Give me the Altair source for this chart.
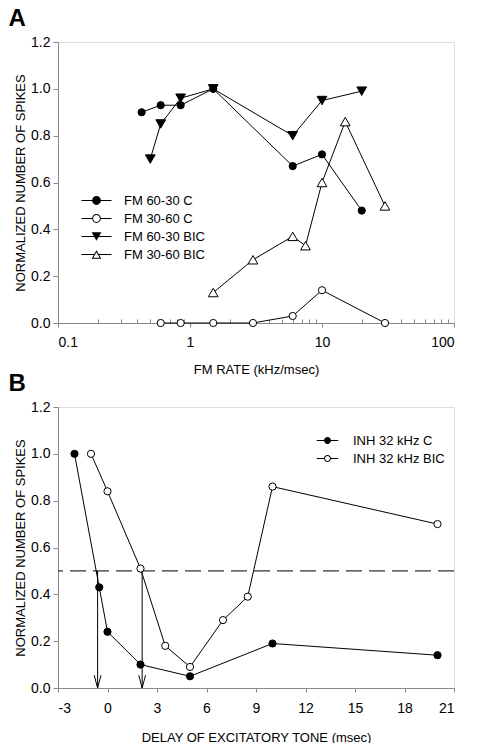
import altair as alt
import pandas as pd

FONT = "Liberation Sans"

# ---------------- Panel A data ----------------
a_series = ["FM 60-30 C", "FM 30-60 C", "FM 60-30 BIC", "FM 30-60 BIC"]
a_rate_c6030 = [0.43, 0.6, 0.85, 1.5, 6, 10, 20]
a_spk_c6030 = [0.90, 0.93, 0.93, 1.00, 0.67, 0.72, 0.48]
a_rate_c3060 = [0.6, 0.85, 1.5, 3, 6, 10, 30]
a_spk_c3060 = [0.00, 0.00, 0.00, 0.00, 0.03, 0.14, 0.00]
a_rate_b6030 = [0.5, 0.6, 0.85, 1.5, 6, 10, 20]
a_spk_b6030 = [0.70, 0.85, 0.96, 1.00, 0.80, 0.95, 0.99]
a_rate_b3060 = [1.5, 3, 6, 7.5, 10, 15, 30]
a_spk_b3060 = [0.13, 0.27, 0.37, 0.33, 0.60, 0.86, 0.50]
a_major_ticks = [0.1, 1, 10, 100]
a_minor_ticks = [0.2, 0.3, 0.4, 0.5, 0.6, 0.7, 0.8, 0.9,
                 2, 3, 4, 5, 6, 7, 8, 9,
                 20, 30, 40, 50, 60, 70, 80, 90]

# ---------------- Panel B data ----------------
b_series = ["INH 32 kHz C", "INH 32 kHz BIC"]
b_delay_c = [-2, -0.5, 0, 2, 5, 10, 20]
b_spk_c = [1.00, 0.43, 0.24, 0.10, 0.05, 0.19, 0.14]
b_delay_bic = [-1, 0, 2, 3.5, 5, 7, 8.5, 10, 20]
b_spk_bic = [1.00, 0.84, 0.51, 0.18, 0.09, 0.29, 0.39, 0.86, 0.70]
b_threshold = [0.5]
b_arrow_x = [-0.6, 2.1]
b_ticks = [-3, 0, 3, 6, 9, 12, 15, 18, 21]

y_ticks = [0, 0.2, 0.4, 0.6, 0.8, 1.0, 1.2]


def long(series_names, xs, ys, xname, yname):
    rows = []
    for name, xv, yv in zip(series_names, xs, ys):
        for a, b in zip(xv, yv):
            rows.append({xname: a, yname: b, "series": name})
    return pd.DataFrame(rows)


df_a = long(a_series,
            [a_rate_c6030, a_rate_c3060, a_rate_b6030, a_rate_b3060],
            [a_spk_c6030, a_spk_c3060, a_spk_b6030, a_spk_b3060],
            "rate", "spikes")
df_b = long(b_series, [b_delay_c, b_delay_bic], [b_spk_c, b_spk_bic],
            "delay", "spikes")
df_arrows = pd.DataFrame({"delay": b_arrow_x,
                          "top": b_threshold * len(b_arrow_x),
                          "bot": [0] * len(b_arrow_x)})
df_thr = pd.DataFrame({"spikes": b_threshold})

W, H = 396, 281


def y_axis():
    return alt.Axis(values=y_ticks, format=".1f", tickSize=5, labelFontSize=14,
                    labelPadding=3, title="NORMALIZED NUMBER OF SPIKES",
                    titleFontSize=13, titlePadding=3, titleFontWeight="normal",
                    grid=False)


y_scale = alt.Scale(domain=[0, 1.2], nice=False, zero=False)

# legend symbol paths (line stub + marker), all drawn as filled geometry
STUB_A = ("M-3.75,-0.125L-{g},-0.125L-{g},0.125L-3.75,0.125Z"
          "M{g},-0.125L3.75,-0.125L3.75,0.125L{g},0.125Z")
P_CIRC_F = STUB_A.format(g=1.05) + "M1.1,0A1.1,1.1,0,1,1,-1.1,0A1.1,1.1,0,1,1,1.1,0Z"
P_CIRC_O = P_CIRC_F + "M0.85,0A0.85,0.85,0,1,0,-0.85,0A0.85,0.85,0,1,0,0.85,0Z"
P_TDOWN = STUB_A.format(g=0.6) + "M-1.22,-1.05L1.22,-1.05L0,1.05Z"
P_TUP_O = (STUB_A.format(g=0.6) + "M0,-1.05L1.22,1.05L-1.22,1.05Z"
           "M0,-0.552L-0.786,0.801L0.786,0.801Z")
STUB_B = ("M-3.6,-0.167L-1.1,-0.167L-1.1,0.167L-3.6,0.167Z"
          "M1.1,-0.167L3.6,-0.167L3.6,0.167L1.1,0.167Z")
P_CIRC_BF = STUB_B + "M1.15,0A1.15,1.15,0,1,1,-1.15,0A1.15,1.15,0,1,1,1.15,0Z"
P_CIRC_BO = P_CIRC_BF + "M0.82,0A0.82,0.82,0,1,0,-0.82,0A0.82,0.82,0,1,0,0.82,0Z"

xa_scale = alt.Scale(type="log", domain=[0.1, 100], nice=False)
xa_axis = alt.Axis(values=a_major_ticks, format="~g", tickSize=4,
                   labelFontSize=14, labelPadding=8, grid=False,
                   title="FM RATE (kHz/msec)", titleFontSize=13,
                   titleFontWeight="normal", titlePadding=14, orient="bottom")

legend_a = alt.Legend(
    orient="none", legendX=32, legendY=152, title=None,
    labelFont=FONT, labelFontSize=13, labelColor="black", labelOffset=21,
    symbolSize=64, rowPadding=3, symbolOpacity=1)

lines_a = alt.Chart(df_a).mark_line(color="black", strokeWidth=1).encode(
    x=alt.X("rate:Q", scale=xa_scale,
            axis=alt.Axis(values=a_minor_ticks, labels=False, domain=False,
                          grid=False, tickSize=4, offset=-4, title="",
                          orient="bottom")),
    y=alt.Y("spikes:Q", scale=y_scale, axis=y_axis()),
    detail="series:N",
)


def pts_a(series_name, shape, fill, size, axis):
    return alt.Chart(df_a).transform_filter(
        alt.datum.series == series_name
    ).mark_point(shape=shape, size=size, filled=True, fill=fill, opacity=1,
                 stroke="black", strokeWidth=1).encode(
        x=alt.X("rate:Q", scale=xa_scale, axis=axis),
        y=alt.Y("spikes:Q", scale=y_scale, axis=y_axis()),
    )


pa1 = pts_a(a_series[0], "circle", "black", 52, xa_axis)
pa2 = pts_a(a_series[1], "circle", "white", 52, None)
pa3 = pts_a(a_series[2], "triangle-down", "black", 95, None)
pa4 = pts_a(a_series[3], "triangle-up", "white", 95, None)

# legend-only layer: its marks are placed below the plot and clipped away
legend_layer_a = alt.Chart(df_a).transform_calculate(hidden="-0.5").mark_point(
    filled=True, fill="black", opacity=1, size=64, clip=True).encode(
    x=alt.X("rate:Q", scale=xa_scale, axis=None),
    y=alt.Y("hidden:Q", scale=y_scale, axis=y_axis()),
    shape=alt.Shape("series:N", scale=alt.Scale(domain=a_series,
                    range=[P_CIRC_F, P_CIRC_O, P_TDOWN, P_TUP_O]),
                    legend=legend_a),
)

panel_a = alt.layer(lines_a, pa1, pa2, pa3, pa4, legend_layer_a).resolve_axis(
    x="independent").properties(
    width=W, height=H,
    title=alt.TitleParams("A", anchor="start", frame="bounds", fontSize=24,
                          fontWeight="bold", font=FONT, color="black",
                          offset=4, dx=-6),
)

# ---------------- Panel B ----------------
xb_scale = alt.Scale(domain=[-3, 21], nice=False, zero=False)
xb_axis = alt.Axis(values=b_ticks, tickSize=4, labelFontSize=14, labelPadding=9,
                   labelExpr="'' + datum.value", grid=False,
                   title="DELAY OF EXCITATORY TONE (msec)", titleFontSize=13,
                   titleFontWeight="normal", titlePadding=16)

legend_b = alt.Legend(
    orient="none", legendX=263, legendY=27, title=None,
    labelFont=FONT, labelFontSize=13, labelColor="black", labelOffset=19,
    symbolSize=36, rowPadding=4, symbolOpacity=1)

thr_b = alt.Chart(df_thr).mark_rule(color="black", strokeWidth=1,
                                    strokeDash=[16, 7]).encode(
    y=alt.Y("spikes:Q", scale=y_scale, axis=y_axis()))

arrow_lines = alt.Chart(df_arrows).mark_rule(color="black", strokeWidth=1).encode(
    x=alt.X("delay:Q", scale=xb_scale, axis=xb_axis),
    y=alt.Y("top:Q", scale=y_scale, axis=y_axis()),
    y2="bot:Q")

arrow_heads = alt.Chart(df_arrows).mark_point(
    shape="M-0.85,-3.2L0,0L0.85,-3.2", size=64, filled=False, color="black",
    strokeWidth=1, opacity=1).encode(
    x=alt.X("delay:Q", scale=xb_scale, axis=xb_axis),
    y=alt.Y("bot:Q", scale=y_scale, axis=y_axis()))

lines_b = alt.Chart(df_b).mark_line(color="black", strokeWidth=1).encode(
    x=alt.X("delay:Q", scale=xb_scale, axis=xb_axis),
    y=alt.Y("spikes:Q", scale=y_scale, axis=y_axis()),
    detail="series:N")


def pts_b(series_name, fill):
    return alt.Chart(df_b).transform_filter(
        alt.datum.series == series_name
    ).mark_point(shape="circle", size=52, filled=True, fill=fill, opacity=1,
                 stroke="black", strokeWidth=1).encode(
        x=alt.X("delay:Q", scale=xb_scale, axis=xb_axis),
        y=alt.Y("spikes:Q", scale=y_scale, axis=y_axis()),
    )


pb1 = pts_b(b_series[0], "black")
pb2 = pts_b(b_series[1], "white")

legend_layer_b = alt.Chart(df_b).transform_calculate(hidden="-0.5").mark_point(
    filled=True, fill="black", opacity=1, size=36, clip=True).encode(
    x=alt.X("delay:Q", scale=xb_scale, axis=xb_axis),
    y=alt.Y("hidden:Q", scale=y_scale, axis=y_axis()),
    shape=alt.Shape("series:N", scale=alt.Scale(domain=b_series,
                    range=[P_CIRC_BF, P_CIRC_BO]), legend=legend_b),
)

panel_b = alt.layer(thr_b, arrow_lines, arrow_heads, lines_b, pb1, pb2,
                    legend_layer_b).properties(
    width=W, height=H,
    title=alt.TitleParams("B", anchor="start", frame="bounds", fontSize=24,
                          fontWeight="bold", font=FONT, color="black",
                          offset=4, dx=-6),
)

chart = alt.vconcat(
    panel_a, panel_b, spacing=84, bounds="flush",
    padding={"left": 0, "top": -2, "right": 0, "bottom": -2},
).resolve_scale(
    shape="independent", x="independent"
).configure_view(stroke="#555", strokeWidth=1.5).configure_axis(
    domainColor="#555", tickColor="#555", labelColor="black", titleColor="black",
    labelFont=FONT, titleFont=FONT, titleFontWeight="normal", grid=False,
    domainWidth=1.2,
).configure(background="white")

chart.save("out.html", embed_options={"renderer": "svg", "actions": False})
